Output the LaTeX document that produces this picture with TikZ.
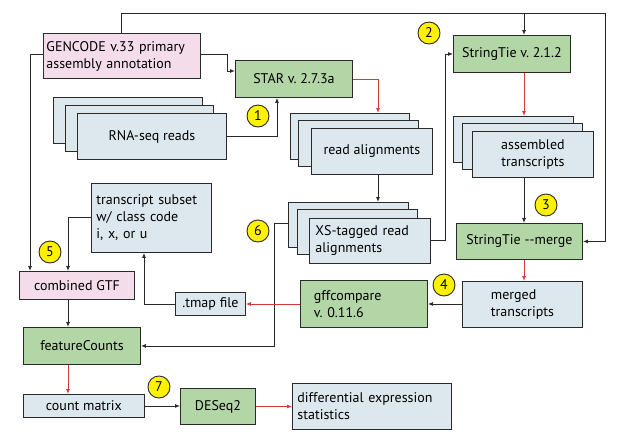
\documentclass[tikz,border=0pt]{standalone}
\usepackage{fontspec}
\setmainfont{PT Sans}
\usetikzlibrary{arrows.meta,calc}
\frenchspacing
\definecolor{gfill}{HTML}{B3D6A6}
\definecolor{bfill}{HTML}{DCE8EE}
\definecolor{pfill}{HTML}{F4DCEB}
\definecolor{redl}{HTML}{D03A3A}
\definecolor{linec}{HTML}{2A2A2A}
\tikzset{
  bx/.style={draw=linec, line width=0.9pt, inner sep=0pt, font=\fontsize{14}{17}\selectfont, anchor=north west},
  gbox/.style={bx, fill=gfill},
  bbox/.style={bx, fill=bfill},
  pbox/.style={bx, fill=pfill},
  arr/.style={draw=linec, line width=0.9pt, -{Latex[length=5pt,width=4pt]}},
  rarr/.style={draw=redl, line width=0.9pt, -{Latex[length=5pt,width=4pt]}},
  badge/.style={circle, draw=linec, line width=0.9pt, fill=yellow, minimum size=22pt, inner sep=0pt, font=\fontsize{14}{14}\selectfont},
}
\begin{document}
\begin{tikzpicture}[x=1pt,y=-1pt]
\useasboundingbox (0,0) rectangle (622,440);
% GENCODE
\node[pbox, minimum width=157pt, minimum height=45pt, text width=151pt, align=left] (gencode) at (43,33) {GENCODE v.33 primary\\assembly annotation};
% STAR
\node[gbox, minimum width=117pt, minimum height=37pt] (star) at (235,60) {STAR v. 2.7.3a};
% RNA-seq stack
\node[bbox, minimum width=149pt, minimum height=46pt] (rnaA) at (53,97) {};
\node[bbox, minimum width=148pt, minimum height=46pt] (rnaB) at (65,105) {};
\node[bbox, minimum width=149pt, minimum height=46pt] (rna) at (77,113) {RNA-seq reads};
% read alignments stack
\node[bbox, minimum width=119pt, minimum height=46pt] (raA) at (290,113) {};
\node[bbox, minimum width=120pt, minimum height=46pt] (raB) at (298,120) {};
\node[bbox, minimum width=121pt, minimum height=46pt] (ra) at (311,128) {read alignments};
% XS stack
\node[bbox, minimum width=120pt, minimum height=45pt] (xsA) at (288,202) {};
\node[bbox, minimum width=120pt, minimum height=45pt] (xsB) at (297,209) {};
\node[bbox, minimum width=121pt, minimum height=45pt, text width=109pt, align=left] (xs) at (309,218) {XS-tagged read\\alignments};
% StringTie
\node[gbox, minimum width=117pt, minimum height=37pt] (st) at (453,35) {StringTie v. 2.1.2};
% assembled stack
\node[bbox, minimum width=120pt, minimum height=46pt] (asA) at (453,116) {};
\node[bbox, minimum width=120pt, minimum height=46pt] (asB) at (462,123) {};
\node[bbox, minimum width=121pt, minimum height=46pt, align=center] (as) at (472,131) {assembled\\transcripts};
% merge
\node[gbox, minimum width=126pt, minimum height=36pt] (merge) at (456,223) {StringTie -{}-merge};
% merged
\node[bbox, minimum width=120pt, minimum height=46pt, align=left] (merged) at (462,281) {merged\\transcripts};
% gffcompare
\node[gbox, minimum width=127pt, minimum height=47pt, text width=100pt, align=left] (gff) at (300,280) {gffcompare\\v. 0.11.6};
% tmap
\node[bbox, minimum width=70pt, minimum height=23pt] (tmap) at (175,292) {.tmap file};
% subset
\node[bbox, minimum width=120pt, minimum height=69pt, text width=110pt, align=left] (subset) at (91,183) {transcript subset\\w/ class code\\i, x, or u};
% combined GTF
\node[pbox, minimum width=115pt, minimum height=28pt] (cgtf) at (19,271) {combined GTF};
% featureCounts
\node[gbox, minimum width=117pt, minimum height=37pt] (fc) at (23,327) {featureCounts};
% count matrix
\node[bbox, minimum width=121pt, minimum height=23pt] (cm) at (23,394) {count matrix};
% DESeq2
\node[gbox, minimum width=75pt, minimum height=36pt] (deseq) at (180,388) {DESeq2};
% differential
\node[bbox, minimum width=159pt, minimum height=46pt, text width=149pt, align=left] (diff) at (292,383) {differential expression\\statistics};
% badges
\node[badge] (b1) at (258,116) {1};
\node[badge] (b2) at (429,33) {2};
\node[badge] (b3) at (546,205) {3};
\node[badge] (b4) at (444,285) {4};
\node[badge] (b5) at (50,252) {5};
\node[badge] (b6) at (258,231) {6};
\node[badge] (b7) at (159,387) {7};
% helper coordinates
\coordinate (gtop) at (121,13);
\coordinate (gright) at (605,13);
\coordinate (col) at (524,0);
\coordinate (gA) at (227,54);
\coordinate (staring) at (235,71);
\coordinate (rnaturn) at (277,136);
\coordinate (starturn) at (378,79);
\coordinate (xsturn) at (445,240);
\coordinate (xsleft) at (274,223);
\coordinate (tmapturn) at (144,304);
\coordinate (subturn) at (68,217);
\coordinate (gleft) at (30,54);
% connectors
\draw[arr] (gencode.north -| gtop) -- (gtop) -- (gright) |- (merge.east);
\draw[arr] (col |- gtop) -- (col |- st.north);
\draw[arr] (gencode.east |- gA) -- (gA) |- (staring);
\draw[arr] (gencode.west |- gleft) -- (gleft) -- (gleft |- cgtf.north);
\draw[arr] (rna.east |- rnaturn) -- (rnaturn) -- (rnaturn |- star.south);
\draw[rarr] (star.east |- starturn) -- (starturn) -- (starturn |- raA.north);
\draw[arr] (starturn |- ra.south) -- (starturn |- xsA.north);
\draw[arr] (xs.east |- xsturn) -- (xsturn) |- (st.west);
\draw[arr] (xsA.west |- xsleft) -- (xsleft) |- (fc.east);
\draw[rarr] (col |- st.south) -- (col |- asA.north);
\draw[arr] (col |- as.south) -- (col |- merge.north);
\draw[rarr] (col |- merge.south) -- (col |- merged.north);
\draw[arr] (merged.west |- tmapturn) -- (gff.east |- tmapturn);
\draw[rarr] (gff.west |- tmapturn) -- (tmap.east |- tmapturn);
\draw[arr] (tmap.west |- tmapturn) -- (tmapturn) -- (tmapturn |- subset.south);
\draw[arr] (subset.west |- subturn) -- (subturn) -- (subturn |- cgtf.north);
\draw[arr] (subturn |- cgtf.south) -- (subturn |- fc.north);
\draw[rarr] (subturn |- fc.south) -- (subturn |- cm.north);
\draw[arr] (cm.east) -- (deseq.west |- cm.east);
\draw[rarr] (deseq.east) -- (diff.west |- deseq.east);
\end{tikzpicture}
\end{document}
